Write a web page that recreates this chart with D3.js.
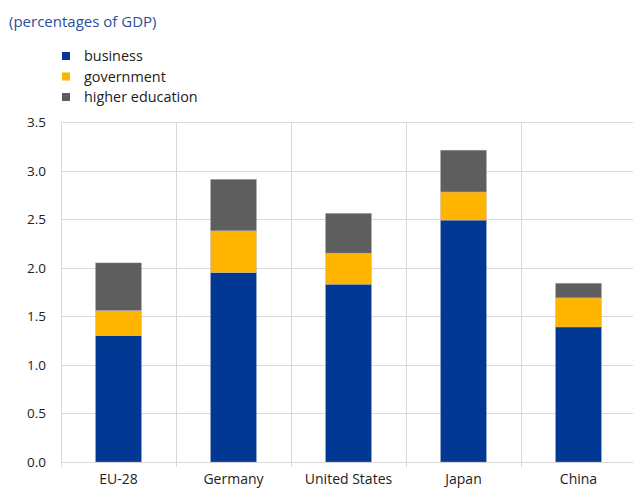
<!DOCTYPE html>
<html><head><meta charset="utf-8">
<script src="https://cdn.jsdelivr.net/npm/d3@7"></script>
<style>body{margin:0;background:#fff}svg{display:block}text{font-family:"Open Sans",sans-serif}</style>
</head><body>
<script>
const categories = ["EU-28","Germany","United States","Japan","China"];
const business = [1.30,1.95,1.83,2.49,1.39];
const government = [0.26,0.43,0.32,0.29,0.30];
const higherEducation = [0.49,0.53,0.41,0.43,0.15];
const seriesNames = ["business","government","higher education"];
const colors = ["#003893","#FFB400","#5e5e5e"];
const yTicks = [0,0.5,1,1.5,2,2.5,3,3.5];

const W=633,H=489;
const svg=d3.select("body").append("svg").attr("width",W).attr("height",H);
const m={l:61,r:-3,t:122,b:27};
const x=d3.scaleBand().domain(categories).range([m.l,W-m.r]).paddingInner(0).paddingOuter(0);
const y=d3.scaleLinear().domain([0,3.5]).range([H-m.b,m.t]);

// grid
svg.append("g").selectAll("line").data(yTicks).join("line")
 .attr("x1",m.l).attr("x2",W).attr("y1",d=>Math.round(y(d))+0.5).attr("y2",d=>Math.round(y(d))+0.5)
 .attr("stroke","#d9d9d9").attr("stroke-width",1);
const vlines=[...categories.map(c=>x(c)), x(categories[categories.length-1])+x.bandwidth()];
svg.append("g").selectAll("line").data(vlines).join("line")
 .attr("x1",d=>Math.round(d)+0.5).attr("x2",d=>Math.round(d)+0.5).attr("y1",m.t).attr("y2",y(0)+5)
 .attr("stroke","#d9d9d9").attr("stroke-width",1);

const rows=categories.map((c,i)=>({cat:c,business:business[i],government:government[i],"higher education":higherEducation[i]}));
const stack=d3.stack().keys(seriesNames)(rows);
const bw=x.bandwidth()*0.4;
svg.append("g").selectAll("g").data(stack).join("g").attr("fill",(d,i)=>colors[i])
 .selectAll("rect").data(d=>d).join("rect")
 .attr("x",d=>x(d.data.cat)+(x.bandwidth()-bw)/2).attr("width",bw)
 .attr("y",d=>y(d[1])).attr("height",d=>y(d[0])-y(d[1]))
 .attr("stroke","rgba(180,180,200,0.6)").attr("stroke-width",0.6);

// y axis labels
svg.append("g").selectAll("text").data(yTicks).join("text")
 .attr("x",46).attr("y",d=>y(d)+5).attr("text-anchor","end")
 .attr("font-size",13.5).attr("fill","#222").text(d=>d.toFixed(1));
// x labels
svg.append("g").selectAll("text").data(categories).join("text")
 .attr("x",d=>x(d)+x.bandwidth()/2).attr("y",484).attr("text-anchor","middle")
 .attr("font-size",14).attr("fill","#222").text(d=>d);

// title
svg.append("text").attr("x",9).attr("y",27).attr("font-size",15).attr("fill","#2a4ea0").text("(percentages of GDP)");
// legend
const lg=svg.append("g").selectAll("g").data(seriesNames).join("g")
 .attr("transform",(d,i)=>`translate(62,${52+i*20.5})`);
lg.append("rect").attr("width",8).attr("height",8).attr("fill",(d,i)=>colors[i]);
lg.append("text").attr("x",22).attr("y",9).attr("font-size",14.4).attr("fill","#222").text(d=>d);
</script>
</body></html>
